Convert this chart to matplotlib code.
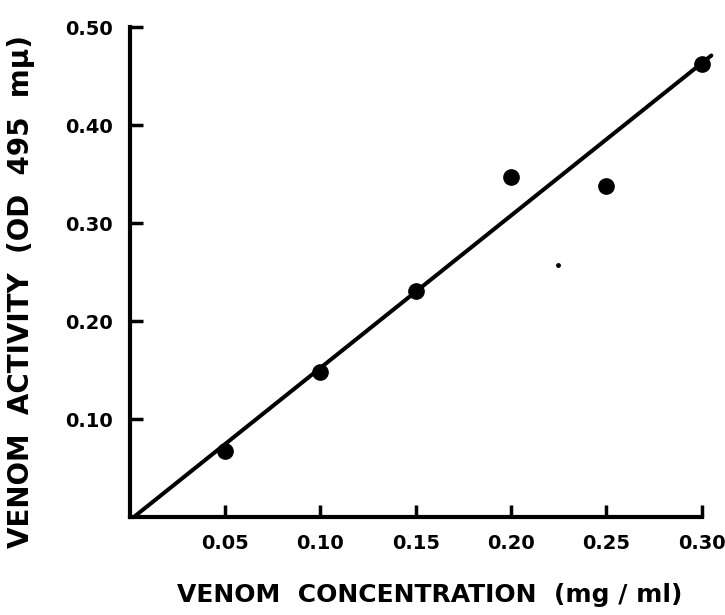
import matplotlib.pyplot as plt

conc = [0.05, 0.10, 0.15, 0.20, 0.25, 0.30]
activity = [0.068, 0.148, 0.231, 0.347, 0.338, 0.462]
fit_x = [0.002, 0.305]
fit_y = [0.0, 0.471]
speck_x = [0.2245]
speck_y = [0.257]

xticks = [0.05, 0.10, 0.15, 0.20, 0.25, 0.30]
yticks = [0.10, 0.20, 0.30, 0.40, 0.50]

font = dict(family="DejaVu Sans", weight="bold")

fig = plt.figure(figsize=(7.25, 6.15), dpi=100)
ax = fig.add_axes([0.179, 0.159, 0.789, 0.797])

ax.plot(fit_x, fit_y, color="black", lw=2.9, clip_on=False, solid_capstyle="round")
ax.plot(conc, activity, "o", color="black", ms=11, clip_on=False)
ax.plot(speck_x, speck_y, "o", color="black", ms=2.5)

ax.set_xlim(0, 0.30)
ax.set_ylim(0, 0.50)
ax.spines["top"].set_visible(False)
ax.spines["right"].set_visible(False)
for s in ["left", "bottom"]:
    ax.spines[s].set_linewidth(3)

ax.set_xticks(xticks)
ax.set_yticks(yticks)
ax.set_xticklabels([f"{v:.2f}" for v in xticks], fontsize=14, **font)
ax.set_yticklabels([f"{v:.2f}" for v in yticks], fontsize=14, **font)
ax.tick_params(direction="in", length=9, width=2.5, pad=12)

ax.set_xlabel("VENOM  CONCENTRATION  (mg / ml)", fontsize=18, **font)
ax.set_ylabel("VENOM  ACTIVITY  (OD  495  mμ)", fontsize=20, **font)
ax.xaxis.set_label_coords(0.525, -0.135)
ax.yaxis.set_label_coords(-0.165, 0.46)

fig.savefig("out.png", dpi=100)
